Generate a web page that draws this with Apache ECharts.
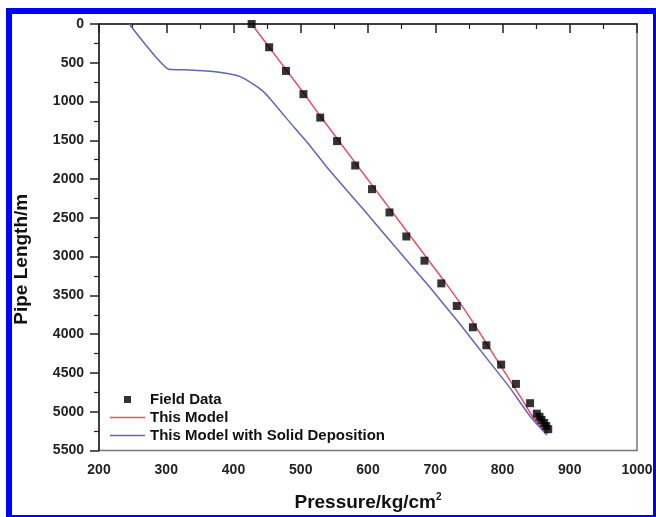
<!DOCTYPE html>
<html>
<head>
<meta charset="utf-8">
<script src="https://cdn.jsdelivr.net/npm/echarts@6/dist/echarts.min.js"></script>
<style>
  html, body { margin: 0; padding: 0; background: #fff; }
  #chart { width: 656px; height: 517px; }
</style>
</head>
<body>
<div id="chart"></div>
<script>
// field measurements [pressure, length]
const fieldData = [
  [427, 0], [453, 300], [478, 605], [504, 905], [529, 1207], [554, 1510],
  [581, 1825], [606, 2130], [632, 2430], [657, 2740], [684, 3052], [709, 3345],
  [732, 3636], [756, 3911], [776, 4143], [798, 4392], [820, 4641], [841, 4890],
  [851, 5025], [855, 5065], [858, 5105], [862, 5145], [865, 5185], [868, 5225]
];
const modelLine = [
  [427, 0], [453, 300], [479, 600], [505, 900], [530, 1200], [556, 1500],
  [582, 1800], [608, 2100], [634, 2400], [660, 2700], [686, 3000], [712, 3300],
  [737, 3600], [760, 3900], [782, 4200], [804, 4500], [826, 4800], [848, 5100],
  [868, 5280]
];
const depositionLine = [
  [245, 0], [304, 584], [335, 592], [370, 612], [395, 645], [410, 678],
  [424, 745], [436, 815], [446, 885], [455, 970], [480, 1230], [511, 1540],
  [543, 1890], [593, 2390], [642, 2890], [692, 3396], [735, 3850], [776, 4306],
  [810, 4680], [841, 5058], [866, 5300]
];
const seriesNames = ['Field Data', 'This Model', 'This Model with Solid Deposition'];

const chart = echarts.init(document.getElementById('chart'));
const font = 'Arial, "Liberation Sans", sans-serif';
const lineIcon = 'path://M0,0h35v1.6h-35z';
const squareIcon = 'path://M0,0h10v10h-10z';

chart.setOption({
  animation: false,
  backgroundColor: '#fff',
  graphic: [
    {type: 'rect', left: 6, top: 8, shape: {width: 650, height: 6}, style: {fill: '#0000ff'}},
    {type: 'rect', left: 6, top: 8, shape: {width: 6, height: 509}, style: {fill: '#0000ff'}},
    {type: 'rect', left: 653, top: 8, shape: {width: 3, height: 509}, style: {fill: '#0000ff'}},
    {type: 'rect', left: 6, top: 515, shape: {width: 650, height: 2}, style: {fill: '#0000ff'}}
  ],
  grid: {
    left: 99, top: 24, right: 19, bottom: 66,
    show: true, borderColor: '#777', borderWidth: 1.5
  },
  legend: {
    orient: 'vertical',
    left: 105, top: 387,
    itemWidth: 35, itemHeight: 7, itemGap: 3,
    symbolKeepAspect: true,
    data: [
      {name: seriesNames[0], icon: squareIcon},
      {name: seriesNames[1], icon: lineIcon},
      {name: seriesNames[2], icon: lineIcon}
    ],
    textStyle: {fontFamily: font, fontWeight: 'bold', fontSize: 15, color: '#111'}
  },
  xAxis: {
    type: 'value', min: 200, max: 1000, interval: 100,
    name: 'Pressure/kg/cm{s|2}', nameLocation: 'middle', nameGap: 42,
    nameTextStyle: {fontFamily: font, fontWeight: 'bold', fontSize: 19, color: '#111',
      rich: {s: {fontFamily: font, fontWeight: 'bold', fontSize: 10, verticalAlign: 'top', padding: [0, 0, 10, 0]}}},
    axisLine: {lineStyle: {color: '#222', width: 1.5}},
    axisTick: {length: 9, lineStyle: {color: '#222', width: 1.5}},
    minorTick: {show: true, splitNumber: 2, length: 5, lineStyle: {color: '#222', width: 1.2}},
    axisLabel: {margin: 13, fontFamily: font, fontWeight: 'bold', fontSize: 14, color: '#222',
      formatter: v => String(v)},
    splitLine: {show: false}
  },
  yAxis: {
    type: 'value', min: 0, max: 5500, interval: 500, inverse: true,
    name: 'Pipe Length/m', nameLocation: 'middle', nameGap: 68,
    nameTextStyle: {fontFamily: font, fontWeight: 'bold', fontSize: 19, color: '#111', padding: [0, 44, 0, 0]},
    axisLine: {lineStyle: {color: '#222', width: 1.5}},
    axisTick: {length: 9, lineStyle: {color: '#222', width: 1.5}},
    minorTick: {show: true, splitNumber: 2, length: 5, lineStyle: {color: '#222', width: 1.2}},
    axisLabel: {margin: 15, fontFamily: font, fontWeight: 'bold', fontSize: 14, color: '#222',
      formatter: v => String(v)},
    splitLine: {show: false}
  },
  series: [
    {
      name: seriesNames[0], type: 'scatter', data: fieldData, z: 3,
      symbol: 'rect', symbolSize: 8,
      itemStyle: {color: '#000'}
    },
    {
      name: seriesNames[1], type: 'line', data: modelLine, symbol: 'none', smooth: 0.3,
      lineStyle: {color: '#e8506a', width: 1.5}, itemStyle: {color: '#e8506a'}
    },
    {
      name: seriesNames[2], type: 'line', data: depositionLine, symbol: 'none', smooth: 0.15,
      lineStyle: {color: '#6464b8', width: 1.5}, itemStyle: {color: '#6464b8'}
    }
  ]
});
</script>
</body>
</html>
